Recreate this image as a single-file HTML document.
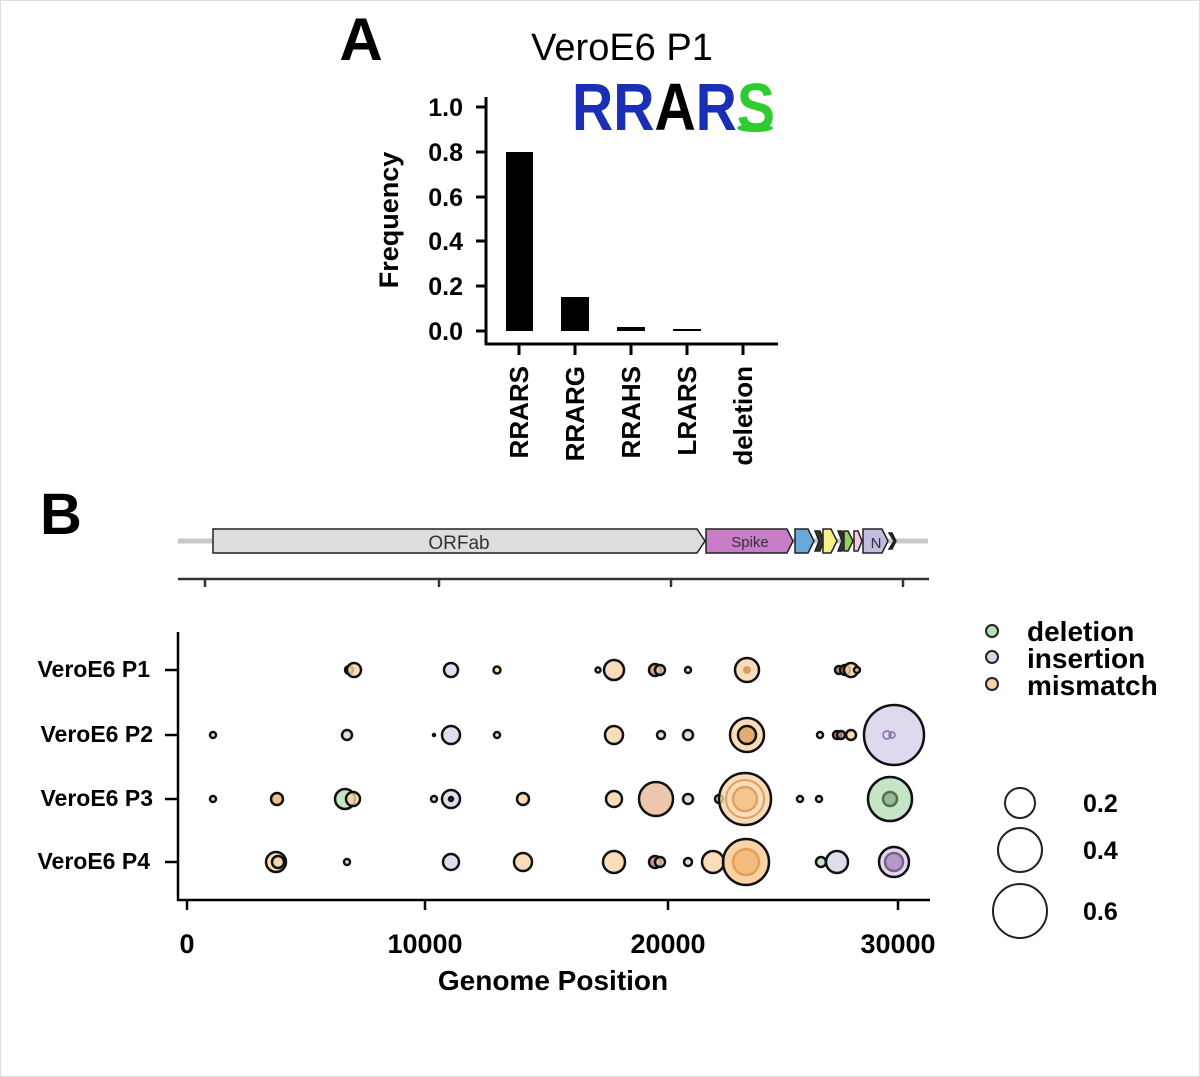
<!DOCTYPE html>
<html><head><meta charset="utf-8"><style>
html,body{margin:0;padding:0;background:#fff}
svg{display:block}
text{font-family:"Liberation Sans",Arial,sans-serif}
</style></head><body>
<svg width="1200" height="1077" viewBox="0 0 1200 1077" xmlns="http://www.w3.org/2000/svg">
<rect x="0.5" y="0.5" width="1199" height="1076" fill="#fff" stroke="#ddd"/>
<!-- Panel A -->
<text x="361" y="60" font-size="60" font-weight="bold" text-anchor="middle">A</text>
<text x="622" y="60" font-size="38" text-anchor="middle">VeroE6 P1</text>
<g font-size="67" font-weight="bold">
<text x="572" y="130" textLength="203" lengthAdjust="spacingAndGlyphs"><tspan fill="#1a2fb5">RR</tspan><tspan fill="#000">A</tspan><tspan fill="#1a2fb5">R</tspan><tspan fill="#2ecc2e">S</tspan></text>
</g>
<ellipse cx="755" cy="128" rx="18" ry="4" fill="#2ecc2e"/>
<g stroke="#000" stroke-width="3" fill="none">
<line x1="486" y1="97" x2="486" y2="345"/>
<line x1="485" y1="344" x2="778" y2="344"/>
<line x1="476" y1="107" x2="486" y2="107"/>
<line x1="476" y1="152" x2="486" y2="152"/>
<line x1="476" y1="197" x2="486" y2="197"/>
<line x1="476" y1="241" x2="486" y2="241"/>
<line x1="476" y1="286" x2="486" y2="286"/>
<line x1="476" y1="331" x2="486" y2="331"/>
<line x1="519" y1="344" x2="519" y2="355"/>
<line x1="575" y1="344" x2="575" y2="355"/>
<line x1="631" y1="344" x2="631" y2="355"/>
<line x1="687" y1="344" x2="687" y2="355"/>
<line x1="743" y1="344" x2="743" y2="355"/>
</g>
<g font-size="25" font-weight="bold" text-anchor="end">
<text x="463" y="116">1.0</text><text x="463" y="161">0.8</text><text x="463" y="206">0.6</text>
<text x="463" y="250">0.4</text><text x="463" y="295">0.2</text><text x="463" y="340">0.0</text>
</g>
<text transform="translate(398,220) rotate(-90)" font-size="27" font-weight="bold" text-anchor="middle">Frequency</text>
<rect x="506" y="152" width="27" height="179" fill="#000"/>
<rect x="561" y="297" width="28" height="34" fill="#000"/>
<rect x="617" y="327" width="28" height="4" fill="#000"/>
<rect x="673" y="329" width="28" height="2" fill="#000"/>
<g font-size="26" font-weight="bold" text-anchor="end">
<text transform="translate(528,366) rotate(-90)">RRARS</text>
<text transform="translate(584,366) rotate(-90)">RRARG</text>
<text transform="translate(640,366) rotate(-90)">RRAHS</text>
<text transform="translate(696,366) rotate(-90)">LRARS</text>
<text transform="translate(752,366) rotate(-90)">deletion</text>
</g>
<!-- Panel B -->
<text x="61" y="534" font-size="58" font-weight="bold" text-anchor="middle">B</text>
<line x1="178" y1="541" x2="928" y2="541" stroke="#c8c8c8" stroke-width="5"/>
<g stroke="#222" stroke-width="1.5">
<polygon points="213,529 697,529 705,541 697,553 213,553" fill="#ddd"/>
<polygon points="706,529 787,529 793,541 787,553 706,553" fill="#c77dc7"/>
<polygon points="795,529 808,529 814,541 808,553 795,553" fill="#6aa8dc"/>
<polygon points="815,531 819,541 815,551 820,551 824,541 820,531" fill="#333"/>
<polygon points="823,529 831,529 837,541 831,553 823,553" fill="#f5f08a"/>
<polygon points="838,531 842,541 838,551 842,551 846,541 842,531" fill="#333"/>
<polygon points="844,531 848,531 853,541 848,551 844,551" fill="#8fd35a"/>
<polygon points="854,531 858,531 862,541 858,551 854,551" fill="#f4c8e0"/>
<polygon points="863,529 882,529 888,541 882,553 863,553" fill="#c0bde0"/>
<polygon points="889,533 894,541 889,549 892,549 896,541 892,533" fill="#222"/>
</g>
<text x="459" y="549" font-size="19" text-anchor="middle" fill="#333">ORFab</text>
<text x="750" y="547" font-size="15" text-anchor="middle" fill="#333">Spike</text>
<text x="876" y="548" font-size="15" text-anchor="middle" fill="#333">N</text>
<g stroke="#333" stroke-width="2.5">
<line x1="178" y1="579" x2="929" y2="579"/>
<line x1="205" y1="579" x2="205" y2="587"/>
<line x1="439" y1="579" x2="439" y2="587"/>
<line x1="671" y1="579" x2="671" y2="587"/>
<line x1="903" y1="579" x2="903" y2="587"/>
</g>
<g stroke="#000" stroke-width="2.5">
<line x1="178" y1="632" x2="178" y2="901"/>
<line x1="177" y1="900" x2="930" y2="900"/>
<line x1="165" y1="670" x2="178" y2="670"/><line x1="165" y1="735" x2="178" y2="735"/>
<line x1="165" y1="799" x2="178" y2="799"/><line x1="165" y1="862" x2="178" y2="862"/>
<line x1="187" y1="900" x2="187" y2="910"/><line x1="425" y1="900" x2="425" y2="910"/>
<line x1="668" y1="900" x2="668" y2="910"/><line x1="898" y1="900" x2="898" y2="910"/>
</g>
<g font-size="23" font-weight="bold" text-anchor="end">
<text x="150" y="677">VeroE6 P1</text><text x="153" y="742">VeroE6 P2</text>
<text x="153" y="806">VeroE6 P3</text><text x="150" y="869">VeroE6 P4</text>
</g>
<g font-size="27" font-weight="bold" text-anchor="middle">
<text x="187" y="953">0</text><text x="425" y="953">10000</text><text x="668" y="953">20000</text><text x="898" y="953">30000</text>
<text x="553" y="990" font-size="28">Genome Position</text>
</g>
<g stroke="#111" stroke-width="2.5" fill-opacity="0.8">
<!-- P1 -->
<circle cx="349" cy="670" r="4" fill="#d9a070"/>
<circle cx="354" cy="670" r="7" fill="#f8d3a8"/>
<circle cx="451" cy="670" r="7" fill="#d6d6ea"/>
<circle cx="497" cy="670" r="3.5" fill="#f8d3a8"/>
<circle cx="598" cy="670" r="2.5" fill="#d6d6ea"/>
<circle cx="614" cy="670" r="10" fill="#f8d3a8"/>
<circle cx="655" cy="670" r="6" fill="#c89070"/>
<circle cx="660" cy="670" r="5" fill="#e8c8b8"/>
<circle cx="688" cy="670" r="3" fill="#d6d6ea"/>
<circle cx="747" cy="670" r="12" fill="#f8d3a8"/>
<circle cx="747" cy="670" r="4" fill="#d09050" stroke="none"/>
<circle cx="839" cy="670" r="4" fill="#a08070"/>
<circle cx="845" cy="670" r="5" fill="#d09060"/>
<circle cx="851" cy="670" r="7" fill="#f8d3a8"/>
<circle cx="857" cy="670" r="3" fill="#f8d3a8"/>
<!-- P2 -->
<circle cx="213" cy="735" r="3" fill="#d6d6ea"/>
<circle cx="347" cy="735" r="5" fill="#d6d6ea"/>
<circle cx="434" cy="735" r="1" fill="#222"/>
<circle cx="451" cy="735" r="9" fill="#d6d6ea"/>
<circle cx="497" cy="735" r="3" fill="#d6d6ea"/>
<circle cx="614" cy="735" r="9" fill="#f8d3a8"/>
<circle cx="661" cy="735" r="4" fill="#d6d6ea"/>
<circle cx="688" cy="735" r="5" fill="#d6d6ea"/>
<circle cx="747" cy="735" r="17" fill="#f8d3a8"/>
<circle cx="747" cy="735" r="9" fill="#e0a060"/>
<circle cx="820" cy="735" r="3" fill="#d6d6ea"/>
<circle cx="837" cy="735" r="4" fill="#a08070"/>
<circle cx="841" cy="735" r="4" fill="#c89070"/>
<circle cx="851" cy="735" r="5" fill="#f8d3a8"/>
<circle cx="894" cy="735" r="30" fill="#d8d0ea"/>
<circle cx="887" cy="735" r="4" fill="none" stroke="#8070a0" stroke-width="1.5"/>
<circle cx="892" cy="735" r="3" fill="none" stroke="#8070a0" stroke-width="1.5"/>
<!-- P3 -->
<circle cx="213" cy="799" r="3" fill="#d6d6ea"/>
<circle cx="277" cy="799" r="6" fill="#e8b070"/>
<circle cx="345" cy="799" r="10" fill="#b8ddb8"/>
<circle cx="353" cy="799" r="7" fill="#f8d3a8"/>
<circle cx="434" cy="799" r="3" fill="#d6d6ea"/>
<circle cx="451" cy="799" r="9" fill="#d6d6ea"/>
<circle cx="451" cy="799" r="2" fill="#222"/>
<circle cx="523" cy="799" r="6" fill="#f8d3a8"/>
<circle cx="614" cy="799" r="8" fill="#f8d3a8"/>
<circle cx="656" cy="799" r="17" fill="#e8b898"/>
<circle cx="688" cy="799" r="5" fill="#d6d6ea"/>
<circle cx="719" cy="799" r="4" fill="#f8d3a8"/>
<circle cx="745" cy="799" r="26" fill="#f8d3a8"/>
<circle cx="745" cy="799" r="19" fill="none" stroke="#e0a060" stroke-width="2"/>
<circle cx="745" cy="799" r="12" fill="#f4c080" stroke="#e0a060"/>
<circle cx="800" cy="799" r="3" fill="#d6d6ea"/>
<circle cx="819" cy="799" r="3" fill="#d6d6ea"/>
<circle cx="890" cy="799" r="22" fill="#b8ddb8"/>
<circle cx="890" cy="799" r="7" fill="#88b088" stroke="#507050"/>
<!-- P4 -->
<circle cx="276" cy="862" r="10" fill="#f8d3a8"/>
<circle cx="278" cy="862" r="6" fill="#f8d3a8"/>
<circle cx="347" cy="862" r="3" fill="#d6d6ea"/>
<circle cx="451" cy="862" r="8" fill="#d6d6ea"/>
<circle cx="523" cy="862" r="9" fill="#f8d3a8"/>
<circle cx="614" cy="862" r="11" fill="#f8d3a8"/>
<circle cx="655" cy="862" r="6" fill="#b08070"/>
<circle cx="660" cy="862" r="5" fill="#e8c8b8"/>
<circle cx="688" cy="862" r="4" fill="#d6d6ea"/>
<circle cx="713" cy="862" r="11" fill="#f8d3a8"/>
<circle cx="746" cy="862" r="23" fill="#f8c890"/>
<circle cx="746" cy="862" r="13" fill="#f4b870" stroke="#e0a060"/>
<circle cx="821" cy="862" r="5" fill="#b8ddb8"/>
<circle cx="837" cy="862" r="11" fill="#d6d6ea"/>
<circle cx="894" cy="862" r="15" fill="#d8d0ea"/>
<circle cx="894" cy="862" r="9" fill="#a888b8" stroke="#7a6090"/>
</g>
<!-- legend -->
<g stroke="#222" stroke-width="2">
<circle cx="992" cy="631" r="6" fill="#b8ddb8"/>
<circle cx="992" cy="657" r="6" fill="#d6d6ea"/>
<circle cx="992" cy="684" r="6" fill="#f8d3a8"/>
</g>
<g font-size="28" font-weight="bold">
<text x="1027" y="641">deletion</text><text x="1027" y="668">insertion</text><text x="1027" y="695">mismatch</text>
</g>
<g stroke="#222" stroke-width="2" fill="none">
<circle cx="1020" cy="803" r="15"/><circle cx="1020" cy="850" r="22"/><circle cx="1020" cy="911" r="27"/>
</g>
<g font-size="25" font-weight="bold">
<text x="1083" y="812">0.2</text><text x="1083" y="859">0.4</text><text x="1083" y="920">0.6</text>
</g>
</svg>
</body></html>
